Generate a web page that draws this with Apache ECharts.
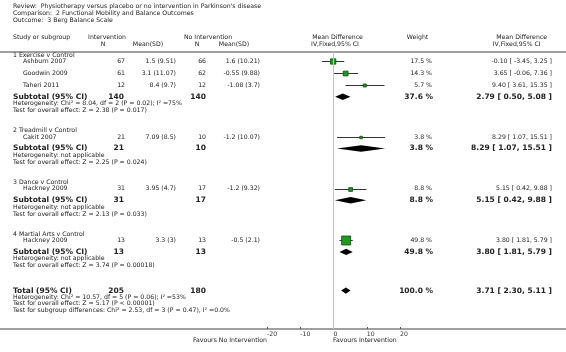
<!DOCTYPE html>
<html>
<head>
<meta charset="utf-8">
<title>Berg Balance Scale</title>
<script src="https://cdn.jsdelivr.net/npm/echarts@6/dist/echarts.min.js"></script>
<style>
  html, body { margin: 0; padding: 0; background: #fff; }
  #chart { width: 566px; height: 352px; }
</style>
</head>
<body>
<div id="chart"></div>
<script>
// ---- data ----
const titleLines = [
  'Review:  Physiotherapy versus placebo or no intervention in Parkinson\'s disease',
  'Comparison:  2 Functional Mobility and Balance Outcomes',
  'Outcome:  3 Berg Balance Scale'
];
const groupNames = ['1 Exercise v Control', '2 Treadmill v Control', '3 Dance v Control', '4 Martial Arts v Control'];

const studyNames = ['Ashburn 2007', 'Goodwin 2009', 'Taheri 2011', 'Cakit 2007', 'Hackney 2009', 'Hackney 2009'];
const studyGroup = [0, 0, 0, 1, 2, 3];
const intN = [67, 61, 12, 21, 31, 13];
const intMean = ['1.5 (9.51)', '3.1 (11.07)', '8.4 (9.7)', '7.09 (8.5)', '3.95 (4.7)', '3.3 (3)'];
const ctlN = [66, 62, 12, 10, 17, 13];
const ctlMean = ['1.6 (10.21)', '-0.55 (9.88)', '-1.08 (3.7)', '-1.2 (10.07)', '-1.2 (9.32)', '-0.5 (2.1)'];
const studyMd = [-0.10, 3.65, 9.40, 8.29, 5.15, 3.80];
const studyLo = [-3.45, -0.06, 3.61, 1.07, 0.42, 1.81];
const studyHi = [3.25, 7.36, 15.35, 15.51, 9.88, 5.79];
const studyWeight = [17.5, 14.3, 5.7, 3.8, 8.8, 49.8];

const subIntN = [140, 21, 31, 13];
const subCtlN = [140, 10, 17, 13];
const subMd = [2.79, 8.29, 5.15, 3.80];
const subLo = [0.50, 1.07, 0.42, 1.81];
const subHi = [5.08, 15.51, 9.88, 5.79];
const subWeight = [37.6, 3.8, 8.8, 49.8];
const subHet = [
  'Heterogeneity: Chi² = 8.04, df = 2 (P = 0.02); I² =75%',
  'Heterogeneity: not applicable',
  'Heterogeneity: not applicable',
  'Heterogeneity: not applicable'
];
const subTest = [
  'Test for overall effect: Z = 2.38 (P = 0.017)',
  'Test for overall effect: Z = 2.25 (P = 0.024)',
  'Test for overall effect: Z = 2.13 (P = 0.033)',
  'Test for overall effect: Z = 3.74 (P = 0.00018)'
];

const totalN = [205, 180];
const totalMd = [3.71];
const totalLo = [2.30];
const totalHi = [5.11];
const totalWeight = [100.0];
const totalNotes = [
  'Heterogeneity: Chi² = 10.57, df = 5 (P = 0.06); I² =53%',
  'Test for overall effect: Z = 5.17 (P < 0.00001)',
  'Test for subgroup differences: Chi² = 2.53, df = 3 (P = 0.47), I² =0.0%'
];
const xTicks = [-20, -10, 0, 10, 20];
const favoursLabels = ['Favours No Intervention', 'Favours Intervention'];

// ---- layout (rows, in px below the top rule) ----
const FONT = '"DejaVu Sans", Verdana, sans-serif';
const small = '6.2px ' + FONT;
const bold = 'bold 7.5px ' + FONT;
const TXT = '#222';

const rows = [];
let y = 3;
groupNames.forEach((g, gi) => {
  rows.push({ type: 'group', y: y, gi: gi });
  y += 6.3;
  studyGroup.forEach((sg, si) => {
    if (sg === gi) { rows.push({ type: 'study', y: y, si: si }); y += 12; }
  });
  y -= 0.5;
  rows.push({ type: 'subtotal', y: y, gi: gi }); y += 6.9;
  rows.push({ type: 'note', y: y, text: subHet[gi] }); y += 6.8;
  rows.push({ type: 'note', y: y, text: subTest[gi] }); y += 20.2;
});
y += 4.8;
rows.push({ type: 'total', y: y }); y += 6.6;
totalNotes.forEach(t => { rows.push({ type: 'note', y: y, text: t }); y += 6.6; });

const fmt2 = v => v.toFixed(2);
const ciText = (m, l, h) => fmt2(m) + ' [ ' + fmt2(l) + ', ' + fmt2(h) + ' ]';

function txt(text, x, yy, font, align) {
  return {
    type: 'text',
    style: {
      text: text, x: x, y: yy, font: font, fill: TXT,
      align: align || 'left', textAlign: align || 'left',
      verticalAlign: 'middle', textVerticalAlign: 'middle'
    }
  };
}

const studyData = rows.filter(r => r.type === 'study').map(r =>
  [studyMd[r.si], studyLo[r.si], studyHi[r.si], r.y, studyWeight[r.si]]);
const diamondData = rows.filter(r => r.type === 'subtotal').map(r =>
  [subMd[r.gi], subLo[r.gi], subHi[r.gi], r.y]);
rows.filter(r => r.type === 'total').forEach(r =>
  diamondData.push([totalMd[0], totalLo[0], totalHi[0], r.y]));

const crisp = v => Math.round(v) + 0.5;

const chart = echarts.init(document.getElementById('chart'), null, { renderer: 'canvas' });

const headerGraphics = [];
titleLines.forEach((t, i) => headerGraphics.push(txt(t, 13, 6.7 + i * 7, small)));
[
  ['Study or subgroup', 13, 37, 'left'],
  ['Intervention', 107, 37, 'center'],
  ['N', 103, 44.3, 'center'],
  ['Mean(SD)', 148, 44.3, 'center'],
  ['No Intervention', 208, 37, 'center'],
  ['N', 197, 44.3, 'center'],
  ['Mean(SD)', 234, 44.3, 'center'],
  ['Mean Difference', 337.5, 37, 'center'],
  ['IV,Fixed,95% CI', 335, 44.3, 'center'],
  ['Weight', 417.5, 37, 'center'],
  ['Mean Difference', 521.7, 37, 'center'],
  ['IV,Fixed,95% CI', 516.7, 44.3, 'center']
].forEach(h => headerGraphics.push(txt(h[0], h[1], h[2], small, h[3])));
headerGraphics.push(txt(favoursLabels[0], 267, 340.5, small, 'right'));
headerGraphics.push(txt(favoursLabels[1], 333, 340.5, small, 'left'));
headerGraphics.push({ type: 'rect', shape: { x: 0, y: 51, width: 566, height: 2 }, style: { fill: '#a0a0a0' } });
headerGraphics.push({ type: 'rect', shape: { x: 0, y: 328, width: 566, height: 2 }, style: { fill: '#a0a0a0' } });

const option = {
  animation: false,
  backgroundColor: '#fff',
  graphic: headerGraphics,
  grid: { left: 267, width: 133, top: 52, height: 277 },
  xAxis: {
    type: 'value', min: xTicks[0], max: xTicks[xTicks.length - 1], interval: 10,
    splitLine: { show: false },
    axisLine: { show: false, onZero: false },
    axisTick: { show: true, inside: true, length: 2, lineStyle: { color: '#555' }, customValues: xTicks },
    axisLabel: {
      fontSize: 6.2, fontFamily: FONT, color: '#333', align: 'left', margin: 2,
      hideOverlap: false, showMinLabel: true, showMaxLabel: true,
      customValues: xTicks,
      formatter: v => String(v)
    }
  },
  yAxis: { type: 'value', min: 0, max: 277, inverse: true, show: false, axisLine: { onZero: false } },
  series: [
    {
      type: 'line', data: [], silent: true,
      markLine: {
        silent: true, symbol: 'none', label: { show: false },
        lineStyle: { color: '#c4c4c4', width: 1, type: 'solid' },
        data: [{ xAxis: 0 }]
      }
    },
    {
      type: 'custom', silent: true,
      data: studyData,
      renderItem: (params, api) => {
        const yy = api.value(3);
        const c = api.coord([api.value(0), yy]);
        const l = api.coord([api.value(1), yy]);
        const h = api.coord([api.value(2), yy]);
        const cy = crisp(c[1]);
        const s = 1.27 * Math.sqrt(api.value(4));
        return {
          type: 'group',
          children: [
            { type: 'line', shape: { x1: l[0], y1: cy, x2: h[0], y2: cy }, style: { stroke: '#333', lineWidth: 1 } },
            { type: 'rect', shape: { x: c[0] - s / 2, y: cy - s / 2, width: s, height: s },
              style: { fill: '#1f9a1f', stroke: '#0a500a', lineWidth: 0.8 } }
          ]
        };
      }
    },
    {
      type: 'custom', silent: true,
      data: diamondData,
      renderItem: (params, api) => {
        const yy = api.value(3);
        const c = api.coord([api.value(0), yy]);
        const l = api.coord([api.value(1), yy]);
        const h = api.coord([api.value(2), yy]);
        const hh = 3.2;
        return {
          type: 'polygon',
          shape: { points: [[l[0], c[1]], [c[0], c[1] - hh], [h[0], c[1]], [c[0], c[1] + hh]] },
          style: { fill: '#000' }
        };
      }
    },
    {
      type: 'custom', silent: true,
      data: rows.map((r, i) => [0, r.y, i]),
      renderItem: (params, api) => {
        const r = rows[api.value(2)];
        const yy = api.coord([0, api.value(1)])[1];
        const ch = [];
        if (r.type === 'group') {
          ch.push(txt(groupNames[r.gi], 13, yy, small));
        } else if (r.type === 'study') {
          const i = r.si;
          ch.push(txt(studyNames[i], 23, yy, small));
          ch.push(txt(String(intN[i]), 125, yy, small, 'right'));
          ch.push(txt(intMean[i], 176, yy, small, 'right'));
          ch.push(txt(String(ctlN[i]), 206, yy, small, 'right'));
          ch.push(txt(ctlMean[i], 260, yy, small, 'right'));
          ch.push(txt(studyWeight[i].toFixed(1) + ' %', 432, yy, small, 'right'));
          ch.push(txt(ciText(studyMd[i], studyLo[i], studyHi[i]), 552, yy, small, 'right'));
        } else if (r.type === 'subtotal') {
          const g = r.gi;
          ch.push(txt('Subtotal (95% CI)', 13, yy, bold));
          ch.push(txt(String(subIntN[g]), 124, yy, bold, 'right'));
          ch.push(txt(String(subCtlN[g]), 206, yy, bold, 'right'));
          ch.push(txt(subWeight[g].toFixed(1) + ' %', 433, yy, bold, 'right'));
          ch.push(txt(ciText(subMd[g], subLo[g], subHi[g]), 552, yy, bold, 'right'));
        } else if (r.type === 'total') {
          ch.push(txt('Total (95% CI)', 13, yy, bold));
          ch.push(txt(String(totalN[0]), 124, yy, bold, 'right'));
          ch.push(txt(String(totalN[1]), 206, yy, bold, 'right'));
          ch.push(txt(totalWeight[0].toFixed(1) + ' %', 433, yy, bold, 'right'));
          ch.push(txt(ciText(totalMd[0], totalLo[0], totalHi[0]), 552, yy, bold, 'right'));
        } else {
          ch.push(txt(r.text, 13, yy, small));
        }
        return { type: 'group', children: ch };
      }
    }
  ]
};
chart.setOption(option);
</script>
</body>
</html>
